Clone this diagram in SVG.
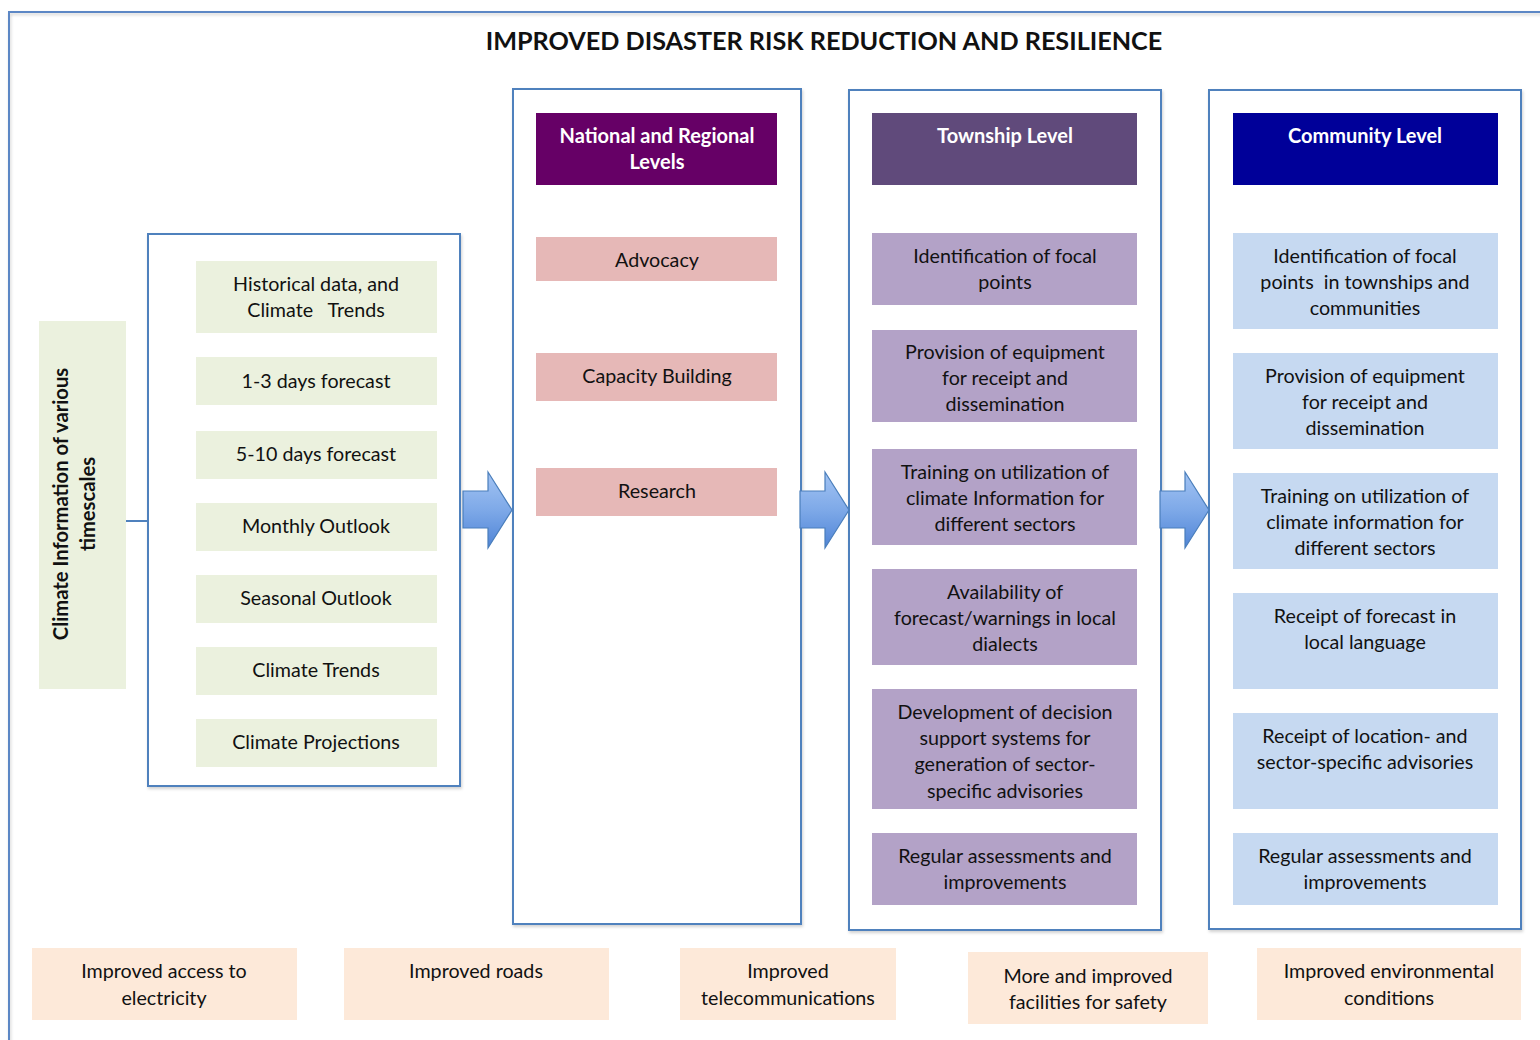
<svg xmlns="http://www.w3.org/2000/svg" width="1540" height="1040" viewBox="0 0 1540 1040">
<defs>
<style>
text{font-family:Lato,"Open Sans","Liberation Sans",sans-serif;font-size:19.7px;fill:#111;text-anchor:middle}
.t{font-weight:bold;font-size:25.2px}
.h{font-weight:bold;fill:#fff;font-size:20px}
.b{font-weight:bold;font-size:20.2px}
.frame{fill:#fff;stroke:#4f81bd;stroke-width:2}
.green{fill:#ebf1de}
.pink{fill:#e6b8b7}
.lav{fill:#b3a2c7}
.lblue{fill:#c6d9f1}
.peach{fill:#fde9d9}
.arrow{fill:url(#ag);stroke:#4a7ebb;stroke-width:1.2}
</style>
<linearGradient id="ag" x1="0" y1="0" x2="0" y2="1">
<stop offset="0" stop-color="#a3c4f3"/>
<stop offset="0.5" stop-color="#7ea9e8"/>
<stop offset="1" stop-color="#4f84d6"/>
</linearGradient>
<filter id="sh" x="-5%" y="-5%" width="110%" height="110%">
<feDropShadow dx="1" dy="2" stdDeviation="1.5" flood-color="#000" flood-opacity="0.18"/>
</filter>
</defs>
<rect width="1540" height="1040" fill="#fff"/>
<rect x="9" y="12" width="1560" height="1060" fill="none" stroke="#5b87c5" stroke-width="2" filter="url(#sh)"/>
<text class="t" x="824" y="50">IMPROVED DISASTER RISK REDUCTION AND RESILIENCE</text>

<g id="frames">
<rect class="frame" x="148" y="234" width="312" height="552" filter="url(#sh)"/>
<rect class="frame" x="513" y="89" width="288" height="835" filter="url(#sh)"/>
<rect class="frame" x="849" y="90" width="312" height="840" filter="url(#sh)"/>
<rect class="frame" x="1209" y="90" width="312" height="839" filter="url(#sh)"/>
</g>

<g id="connectors">
<line x1="126" y1="521" x2="148" y2="521" stroke="#4f81bd" stroke-width="2"/>
<path class="arrow" d="M463,491 H488 V472 L512,510 L488,548 V528 H463 Z"/>
<path class="arrow" d="M800,491 H825 V472 L849,510 L825,548 V528 H800 Z"/>
<path class="arrow" d="M1160,491 H1185 V472 L1209,510 L1185,548 V528 H1160 Z"/>
</g>

<g id="climate-info">
<rect class="green" x="39" y="321" width="87" height="368"/>
<text class="b" transform="translate(68,504) rotate(-90)">Climate Information of various</text>
<text class="b" transform="translate(95,504) rotate(-90)">timescales</text>
</g>

<g id="historical"><rect class="green" x="196" y="261" width="241" height="72"/><text x="316" y="291">Historical data, and</text><text x="316" y="317" xml:space="preserve">Climate   Trends</text></g>
<g id="forecast-1-3"><rect class="green" x="196" y="357" width="241" height="48"/><text x="316" y="388">1-3 days forecast</text></g>
<g id="forecast-5-10"><rect class="green" x="196" y="431" width="241" height="48"/><text x="316" y="461">5-10 days forecast</text></g>
<g id="monthly"><rect class="green" x="196" y="503" width="241" height="48"/><text x="316" y="533">Monthly Outlook</text></g>
<g id="seasonal"><rect class="green" x="196" y="575" width="241" height="48"/><text x="316" y="605">Seasonal Outlook</text></g>
<g id="trends"><rect class="green" x="196" y="647" width="241" height="48"/><text x="316" y="677">Climate Trends</text></g>
<g id="projections"><rect class="green" x="196" y="719" width="241" height="48"/><text x="316" y="749">Climate Projections</text></g>

<g id="national-header"><rect x="536" y="113" width="241" height="72" fill="#660066"/><text class="h" x="657" y="143">National and Regional</text><text class="h" x="657" y="169">Levels</text></g>
<g id="advocacy"><rect class="pink" x="536" y="237" width="241" height="44"/><text x="657" y="267">Advocacy</text></g>
<g id="capacity"><rect class="pink" x="536" y="353" width="241" height="48"/><text x="657" y="383">Capacity Building</text></g>
<g id="research"><rect class="pink" x="536" y="468" width="241" height="48"/><text x="657" y="498">Research</text></g>

<g id="township-header"><rect x="872" y="113" width="265" height="72" fill="#604a7b"/><text class="h" x="1005" y="143">Township Level</text></g>
<g id="t-identification"><rect class="lav" x="872" y="233" width="265" height="72"/><text x="1005" y="263">Identification of focal</text><text x="1005" y="289">points</text></g>
<g id="t-provision"><rect class="lav" x="872" y="330" width="265" height="92"/><text x="1005" y="359">Provision of equipment</text><text x="1005" y="385">for receipt and</text><text x="1005" y="411">dissemination</text></g>
<g id="t-training"><rect class="lav" x="872" y="449" width="265" height="96"/><text x="1005" y="479">Training on utilization of</text><text x="1005" y="505">climate Information for</text><text x="1005" y="531">different sectors</text></g>
<g id="t-availability"><rect class="lav" x="872" y="569" width="265" height="96"/><text x="1005" y="599">Availability of</text><text x="1005" y="625">forecast/warnings in local</text><text x="1005" y="651">dialects</text></g>
<g id="t-development"><rect class="lav" x="872" y="689" width="265" height="120"/><text x="1005" y="719">Development of decision</text><text x="1005" y="745">support systems for</text><text x="1005" y="771">generation of sector-</text><text x="1005" y="798">specific advisories</text></g>
<g id="t-regular"><rect class="lav" x="872" y="833" width="265" height="72"/><text x="1005" y="863">Regular assessments and</text><text x="1005" y="889">improvements</text></g>

<g id="community-header"><rect x="1233" y="113" width="265" height="72" fill="#000099"/><text class="h" x="1365" y="143">Community Level</text></g>
<g id="c-identification"><rect class="lblue" x="1233" y="233" width="265" height="96"/><text x="1365" y="263">Identification of focal</text><text x="1365" y="289" xml:space="preserve">points  in townships and</text><text x="1365" y="315">communities</text></g>
<g id="c-provision"><rect class="lblue" x="1233" y="353" width="265" height="96"/><text x="1365" y="383">Provision of equipment</text><text x="1365" y="409">for receipt and</text><text x="1365" y="435">dissemination</text></g>
<g id="c-training"><rect class="lblue" x="1233" y="473" width="265" height="96"/><text x="1365" y="503">Training on utilization of</text><text x="1365" y="529">climate information for</text><text x="1365" y="555">different sectors</text></g>
<g id="c-receipt-forecast"><rect class="lblue" x="1233" y="593" width="265" height="96"/><text x="1365" y="623">Receipt of forecast in</text><text x="1365" y="649">local language</text></g>
<g id="c-receipt-location"><rect class="lblue" x="1233" y="713" width="265" height="96"/><text x="1365" y="743">Receipt of location- and</text><text x="1365" y="769">sector-specific advisories</text></g>
<g id="c-regular"><rect class="lblue" x="1233" y="833" width="265" height="72"/><text x="1365" y="863">Regular assessments and</text><text x="1365" y="889">improvements</text></g>

<g id="electricity"><rect class="peach" x="32" y="948" width="265" height="72"/><text x="164" y="978">Improved access to</text><text x="164" y="1005">electricity</text></g>
<g id="roads"><rect class="peach" x="344" y="948" width="265" height="72"/><text x="476" y="978">Improved roads</text></g>
<g id="telecom"><rect class="peach" x="680" y="948" width="216" height="72"/><text x="788" y="978">Improved</text><text x="788" y="1005">telecommunications</text></g>
<g id="safety"><rect class="peach" x="968" y="952" width="240" height="72"/><text x="1088" y="983">More and improved</text><text x="1088" y="1009">facilities for safety</text></g>
<g id="environment"><rect class="peach" x="1257" y="948" width="264" height="72"/><text x="1389" y="978">Improved environmental</text><text x="1389" y="1005">conditions</text></g>
</svg>
